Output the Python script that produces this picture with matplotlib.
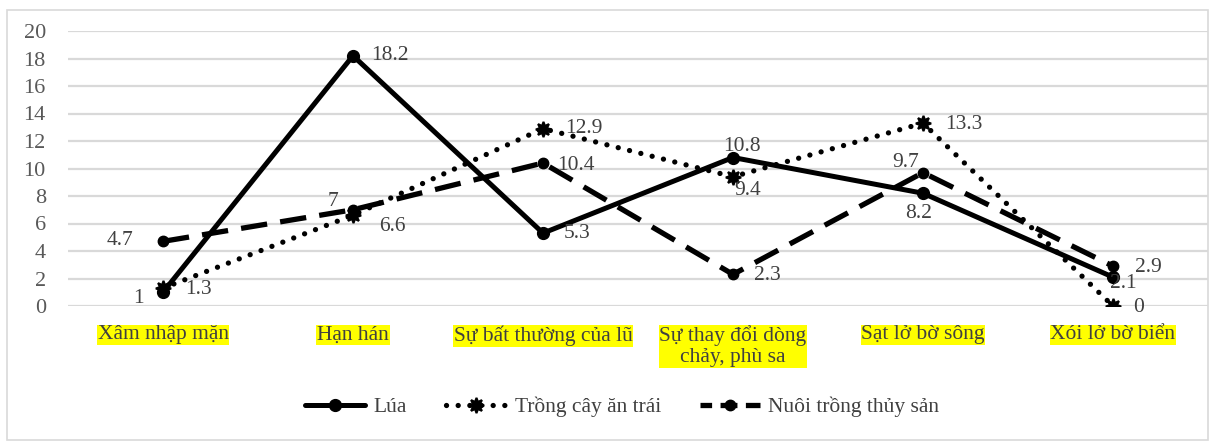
import matplotlib
matplotlib.use("Agg")
import matplotlib.pyplot as plt
from matplotlib.lines import Line2D
from matplotlib.patches import Rectangle

categories = ["Xâm nhập mặn", "Hạn hán", "Sự bất thường của lũ",
              "Sự thay đổi dòng\nchảy, phù sa", "Sạt lở bờ sông", "Xói lở bờ biển"]
lua = [1, 18.2, 5.3, 10.8, 8.2, 2.1]
cay_an_trai = [1.3, 6.6, 12.9, 9.4, 13.3, 0]
thuy_san = [4.7, 7, 10.4, 2.3, 9.7, 2.9]
y_ticks = list(range(0, 21, 2))

# label offsets in pixels (dx, dy) for each series' data labels
lua_off = [(-25, -6), (37, 0), (34, 0), (9, 11), (-4, -20), (10, -6)]
cay_off = [(35, -1), (39, -11), (41, 0), (15, -14), (41, -1), (26, -1)]
ts_off = [(-43, 1), (-20, 8), (33, -2), (34, -1), (-17, 10), (35, -1)]

plt.rcParams['font.family'] = ['Liberation Serif', 'DejaVu Serif']

W, H = 1215, 446
fig = plt.figure(figsize=(W / 100, H / 100), dpi=100)
ax = fig.add_axes([68 / W, 1 - 306 / H, 1140 / W, 275 / H])

x = list(range(len(categories)))
txt_color = "#404040"
fs = 15.5

solid_kw = dict(color="black", lw=3.6, marker="o", markersize=8.5,
                solid_capstyle="round")
dot_kw = dict(color="black", lw=3.8, linestyle=(0, (0.01, 2.2)),
              dash_capstyle="round", marker=(8, 1, 0), markersize=11,
              markeredgewidth=1.5)
dash_kw = dict(color="black", lw=3.8, linestyle=(0, (5, 2.5)),
               marker="o", markersize=7.5)

ax.plot(x, lua, zorder=4, **solid_kw)
ax.plot(x, cay_an_trai, zorder=3, **dot_kw)
ax.plot(x, thuy_san, zorder=3, **dash_kw)

for vals, offs in ((lua, lua_off), (cay_an_trai, cay_off), (thuy_san, ts_off)):
    for xi, v, (dx, dy) in zip(x, vals, offs):
        ax.annotate(f"{v:g}", (xi, v), xytext=(dx, dy), textcoords="offset pixels",
                    ha="center", va="center", fontsize=fs, color=txt_color, zorder=6)

ax.set_xlim(-0.5, len(categories) - 0.5)
ax.set_ylim(0, 20)
ax.set_yticks(y_ticks)
ax.set_yticklabels([str(t) for t in y_ticks], fontsize=16, color="#595959")
ax.yaxis.grid(True, color="#d9d9d9", lw=1.6, zorder=0)
ax.set_axisbelow(True)
for s in ax.spines.values():
    s.set_visible(False)
ax.tick_params(axis="both", length=0)
ax.tick_params(axis="y", pad=16)
ax.tick_params(axis="x", pad=14)
ax.set_xticks(x)
ax.set_xticklabels(categories, fontsize=fs, color=txt_color, va="top",
                   linespacing=1.15)
for lbl in ax.get_xticklabels():
    lbl.set_bbox(dict(facecolor="#ffff00", edgecolor="none", pad=0.5))

# legend handles: dashed handle offset so the gaps sit around the marker
leg_dash = dict(dash_kw)
leg_dash["linestyle"] = (1.0, (3.2, 1.6))
handles = [Line2D([], [], **solid_kw),
           Line2D([], [], **dot_kw),
           Line2D([], [], **leg_dash)]
labels = ["Lúa", "Trồng cây ăn trái", "Nuôi trồng thủy sản"]
fig.legend(handles, labels, loc="center", bbox_to_anchor=(622 / W, 1 - 407 / H),
           ncol=3, frameon=False, fontsize=fs, handlelength=2.8,
           columnspacing=1.8, handletextpad=0.4, labelcolor=txt_color)

fig.patches.append(Rectangle((7 / W, 1 - 440 / H), 1201 / W, 430 / H,
                             transform=fig.transFigure, fill=False,
                             edgecolor="#d9d9d9", lw=1.2))

fig.savefig("out.png", dpi=100)
